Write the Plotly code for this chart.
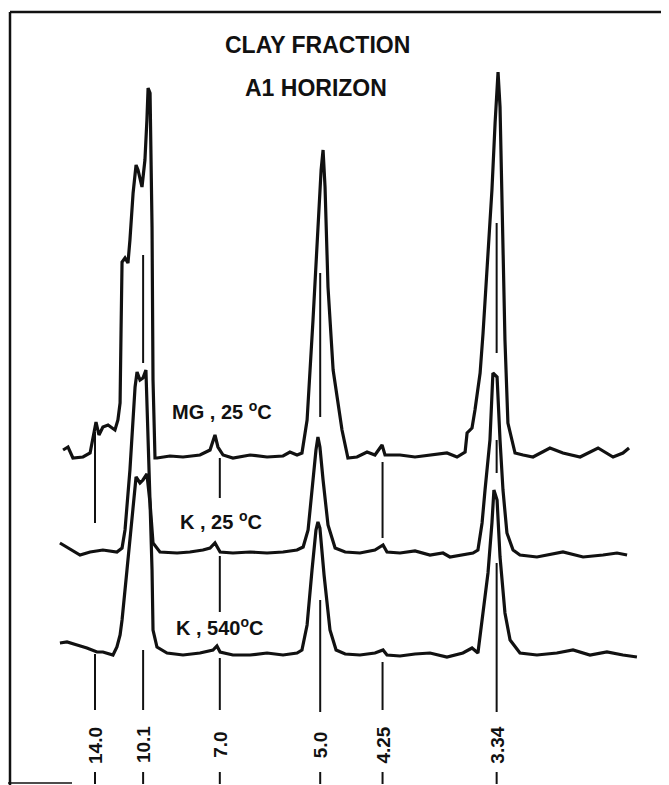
import math
import plotly.graph_objects as go

# ---------------- data ----------------
WAVELENGTH = 1.5406  # Cu K-alpha, angstrom

d_spacings = [14.0, 10.1, 7.0, 5.0, 4.25, 3.34]
d_labels = ["14.0", "10.1", "7.0", "5.0", "4.25", "3.34"]

sample_names = ["MG , 25 <sup>o</sup>C", "K , 25 <sup>o</sup>C", "K , 540<sup>o</sup>C"]
stack_offsets = [325, 235, 129]

two_theta_mg = [4.69, 4.94, 5.19, 5.70, 6.06, 6.36, 6.51, 6.71, 6.97, 7.32, 7.47, 7.58, 7.63,
                7.68, 7.83, 7.98, 8.08, 8.24, 8.39, 8.49, 8.69, 8.84, 8.94, 9.00, 9.10, 9.20,
                9.25, 9.35, 9.45, 10.11, 10.77, 11.63, 12.14, 12.39, 12.54, 12.80, 13.30, 14.17,
                15.03, 15.84, 16.19, 16.55, 16.80, 17.06, 17.36, 17.61, 17.77, 17.87, 17.97,
                18.12, 18.38, 18.83, 19.13, 19.59, 20.10, 20.50, 20.86, 21.01, 21.77, 22.53,
                23.29, 24.15, 24.66, 25.07, 25.17, 25.42, 25.57, 25.83, 25.98, 26.23, 26.43,
                26.59, 26.74, 26.84, 26.94, 27.09, 27.24, 27.60, 28.01, 28.51, 29.37, 30.03,
                30.90, 31.81, 32.57, 33.07, 33.38]
intensity_mg = [10, 13, 2, 3, 7, 38, 25, 33, 35, 30, 40, 57, 130,
                198, 202, 197, 220, 267, 295, 290, 273, 300, 340, 372, 367, 233,
                80, 2, 2, 4, 3, 5, 10, 25, 13, 5, 2, 5,
                3, 4, 8, 5, 7, 40, 140, 240, 290, 310, 273,
                173, 90, 30, 2, 3, 8, 5, 15, 5, 5, 3,
                5, 7, 3, 8, 27, 32, 50, 87, 127, 203, 270,
                337, 388, 353, 253, 120, 37, 7, 5, 3, 12, 7,
                3, 12, 3, 7, 12]

two_theta_k25 = [4.53, 4.89, 5.55, 6.06, 6.71, 7.42, 7.68, 7.83, 8.08, 8.34, 8.44, 8.59, 8.74,
                 8.89, 9.00, 9.10, 9.25, 9.60, 10.47, 11.12, 11.78, 12.14, 12.39, 12.65, 13.30,
                 14.17, 15.03, 15.84, 16.55, 16.86, 17.11, 17.31, 17.51, 17.61, 17.71, 17.87,
                 18.12, 18.48, 18.99, 19.74, 20.50, 20.91, 21.11, 21.77, 22.53, 23.29, 23.95,
                 24.30, 24.96, 25.47, 25.72, 25.93, 26.08, 26.23, 26.33, 26.48, 26.69, 26.84,
                 26.99, 27.19, 27.50, 27.85, 28.71, 30.03, 31.05, 32.06, 32.77, 33.28]
intensity_k25 = [7, 3, -5, -2, 0, -2, 2, 20, 80, 163, 178, 170, 172,
                 180, 113, 47, 7, -2, -3, -2, 0, 2, 7, -2, -3,
                 -2, -3, -2, 0, 3, 20, 63, 100, 113, 103, 70,
                 25, 2, -2, -3, 0, 5, -2, -3, -1, -5, -3,
                 -7, -5, -3, 0, 27, 60, 93, 110, 177, 173, 110,
                 60, 17, 0, -5, -7, -2, -7, -5, -3, -5]

two_theta_k540 = [4.53, 4.89, 5.40, 5.90, 6.41, 6.71, 7.22, 7.42, 7.58, 7.68, 7.93, 8.18, 8.39,
                  8.59, 8.74, 8.94, 9.10, 9.20, 9.25, 9.45, 9.96, 10.77, 11.63, 12.29, 12.49,
                  12.65, 13.30, 14.17, 15.03, 15.84, 16.55, 16.80, 17.06, 17.31, 17.51, 17.61,
                  17.71, 17.92, 18.22, 18.53, 18.99, 19.74, 20.50, 20.91, 21.11, 21.77, 22.53,
                  23.29, 24.15, 24.96, 25.42, 25.72, 25.98, 26.23, 26.43, 26.53, 26.69, 26.84,
                  27.09, 27.35, 27.85, 28.71, 29.72, 30.54, 31.40, 32.26, 33.07, 33.78]
intensity_k540 = [13, 14, 11, 8, 4, 4, 1, 9, 21, 36, 86, 136, 179,
                  173, 176, 182, 153, 86, 26, 9, 3, 1, 3, 6, 10,
                  4, 1, 1, 3, 1, 3, 6, 31, 86, 126, 134,
                  128, 81, 26, 6, 2, 1, 3, 6, 1, 0, 2,
                  3, -1, 3, 8, 3, 43, 83, 133, 166, 156, 99,
                  43, 16, 3, 1, 3, 6, 1, 4, 1, -1]

# ---------------- styling / layout helpers ----------------
PAGE_W, PAGE_H = 669, 785
BODY = 8                      # default page margin of the html body
W, H = PAGE_W - BODY, PAGE_H - BODY
ML, MR, MT, MB = 10 - BODY, 8, 12 - BODY, 0
X_RANGE = [2, 35]
Y_RANGE = [0, H - MT - MB]
INK = "#111111"
FONT = "Liberation Sans, Arial, sans-serif"


def bragg_two_theta(d):
    return 2 * math.degrees(math.asin(WAVELENGTH / (2 * d)))


def ypix(p):
    # convert a page pixel row into a y-axis value
    return PAGE_H - p


marker_x = [bragg_two_theta(d) for d in d_spacings]

# vertical extents of the reference lines (page pixel rows), per d-spacing
marker_spans = [
    [(432, 523), (654, 710), (772, 784)],
    [(255, 363), (650, 710), (772, 784)],
    [(458, 498), (556, 612), (658, 710), (772, 784)],
    [(273, 417), (600, 712), (772, 784)],
    [(462, 538), (662, 710), (772, 784)],
    [(223, 353), (440, 473), (563, 712), (772, 784)],
]

fig = go.Figure()

series = [
    (two_theta_mg, intensity_mg),
    (two_theta_k25, intensity_k25),
    (two_theta_k540, intensity_k540),
]
for (tt, inten), off, name in zip(series, stack_offsets, sample_names):
    fig.add_trace(go.Scatter(
        x=tt, y=[v + off for v in inten], mode="lines", name=name,
        line=dict(color=INK, width=3.2, shape="linear"), hoverinfo="skip",
        showlegend=False,
    ))

shapes = []
for xv, spans in zip(marker_x, marker_spans):
    for (p0, p1) in spans:
        shapes.append(dict(type="line", xref="x", yref="y", x0=xv, x1=xv,
                           y0=ypix(p0), y1=ypix(p1),
                           line=dict(color=INK, width=2)))

plot_w = W - ML - MR
plot_h = H - MT - MB
# frame pieces (scanned border)
shapes.append(dict(type="line", xref="paper", yref="paper", x0=0, x1=0, y0=-0.01, y1=1.0,
                   line=dict(color=INK, width=2.5)))
shapes.append(dict(type="line", xref="paper", yref="paper", x0=0, x1=(W - ML) / plot_w,
                   y0=1.0, y1=1.0, line=dict(color=INK, width=2.5)))
shapes.append(dict(type="line", xref="paper", yref="paper", x0=-ML / plot_w, x1=62 / plot_w,
                   y0=2 / plot_h, y1=2 / plot_h,
                   line=dict(color=INK, width=1.5)))

annotations = []
for xv, lab in zip(marker_x, d_labels):
    annotations.append(dict(x=xv, y=ypix(745), xref="x", yref="y", text="<b>" + lab + "</b>",
                            textangle=-90, showarrow=False,
                            font=dict(family=FONT, size=19, color=INK),
                            xanchor="center", yanchor="middle"))

annotations.append(dict(x=17.61, y=ypix(45), xref="x", yref="y", text="<b>CLAY FRACTION</b>",
                        showarrow=False, font=dict(family=FONT, size=23, color=INK)))
annotations.append(dict(x=17.51, y=ypix(88), xref="x", yref="y", text="<b>A1 HORIZON</b>",
                        showarrow=False, font=dict(family=FONT, size=23, color=INK)))

label_pos = [(12.75, 410), (12.70, 520), (12.65, 626)]
for (lx, ly), name in zip(label_pos, sample_names):
    annotations.append(dict(x=lx, y=ypix(ly), xref="x", yref="y", text="<b>" + name + "</b>",
                            showarrow=False, font=dict(family=FONT, size=20, color=INK)))

fig.update_layout(
    width=W, height=H,
    margin=dict(l=ML, r=MR, t=MT, b=MB, pad=0),
    paper_bgcolor="white", plot_bgcolor="white",
    xaxis=dict(range=X_RANGE, visible=False, fixedrange=True),
    yaxis=dict(range=Y_RANGE, visible=False, fixedrange=True),
    shapes=shapes, annotations=annotations,
    showlegend=False,
)

fig.write_html("out.html")
